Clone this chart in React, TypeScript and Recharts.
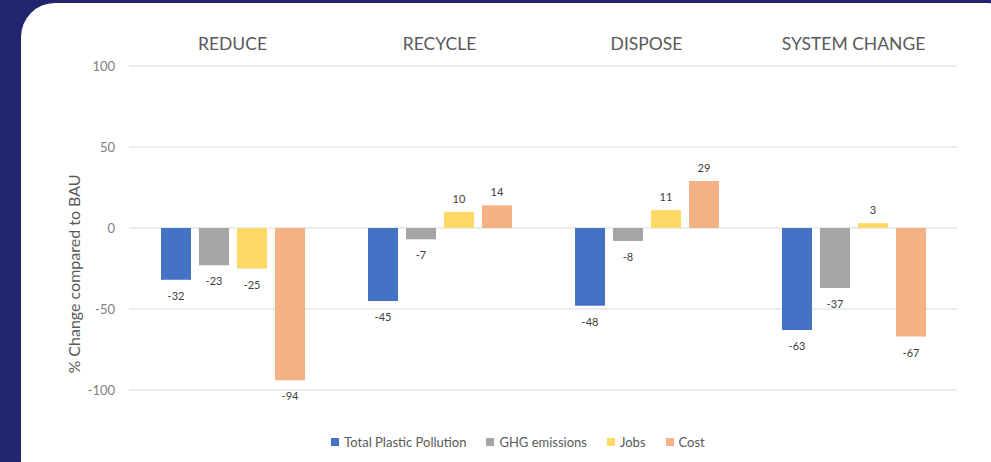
import {
  Bar,
  BarChart,
  CartesianGrid,
  LabelList,
  Legend,
  XAxis,
  YAxis,
} from "recharts";

const categories = ["REDUCE", "RECYCLE", "DISPOSE", "SYSTEM CHANGE"];
const plasticPollution = [-32, -45, -48, -63];
const ghgEmissions = [-23, -7, -8, -37];
const jobs = [-25, 10, 11, 3];
const cost = [-94, 14, 29, -67];
const yTicks = [-100, -50, 0, 50, 100];

const series = [
  { key: "plastic", name: "Total Plastic Pollution", color: "#4472C4", values: plasticPollution },
  { key: "ghg", name: "GHG emissions", color: "#A5A5A5", values: ghgEmissions },
  { key: "jobs", name: "Jobs", color: "#FFD966", values: jobs },
  { key: "cost", name: "Cost", color: "#F4B183", values: cost },
];

const data = categories.map((label, i) => {
  const row: Record<string, string | number> = { label };
  series.forEach((s) => {
    row[s.key] = s.values[i];
  });
  return row;
});

const FONT = "Lato, 'Open Sans', sans-serif";

function ValueLabel(props: any) {
  const { x, y, width, height, value } = props;
  const top = Math.min(y, y + height);
  const bottom = Math.max(y, y + height);
  const cx = x + width / 2;
  const ty = value < 0 ? bottom + 20 : top - 9;
  return (
    <text x={cx} y={ty} textAnchor="middle" fontSize={11} fill="#404040" fontFamily={FONT}>
      {value}
    </text>
  );
}

function YLabel(props: any) {
  const { viewBox } = props;
  const cx = viewBox.x + 23;
  const cy = viewBox.y + viewBox.height / 2 + 46;
  return (
    <text
      x={cx}
      y={cy}
      transform={`rotate(-90, ${cx}, ${cy})`}
      textAnchor="middle"
      dominantBaseline="central"
      fontSize={16}
      fill="#595959"
      fontFamily={FONT}
    >
      % Change compared to BAU
    </text>
  );
}

// custom legend so the order follows the series list
function renderLegend() {
  return (
    <div
      style={{
        display: "flex",
        justifyContent: "center",
        gap: 20,
        paddingLeft: 45,
        fontFamily: FONT,
        fontSize: 13,
        color: "#595959",
      }}
    >
      {series.map((s) => (
        <div key={s.key} style={{ display: "flex", alignItems: "center", gap: 5 }}>
          <span style={{ width: 8, height: 8, background: s.color, display: "inline-block" }} />
          {s.name}
        </div>
      ))}
    </div>
  );
}

export default function App() {
  return (
    <div
      style={{
        position: "fixed",
        top: 0,
        left: 0,
        width: 991,
        height: 462,
        background: "#212570",
        overflow: "hidden",
      }}
    >
      <div
        style={{
          position: "absolute",
          left: 21,
          top: 3,
          width: 1000,
          height: 490,
          borderRadius: 34,
          background: "#ffffff",
        }}
      />
      <div style={{ position: "absolute", left: 0, top: 0 }}>
        <BarChart
          width={991}
          height={462}
          data={data}
          margin={{ top: 30, right: 34, bottom: 56, left: 50 }}
          barSize={30}
          barGap={8}
        >
          <CartesianGrid vertical={false} stroke="#d9d9d9" />
          <XAxis
            dataKey="label"
            orientation="top"
            height={36}
            axisLine={false}
            tickLine={false}
            tickSize={0}
            tickMargin={16}
            tick={{ fill: "#595959", fontSize: 17.5, fontFamily: FONT }}
          />
          <YAxis
            width={79}
            domain={[-100, 100]}
            ticks={yTicks}
            axisLine={false}
            tickLine={false}
            tickSize={0}
            tickMargin={14}
            tick={{ fill: "#808080", fontSize: 13, fontFamily: FONT }}
            label={<YLabel />}
          />
          <Legend
            verticalAlign="bottom"
            content={renderLegend}
            wrapperStyle={{ left: 0, width: 991, bottom: 12 }}
          />
          {series.map((s) => (
            <Bar key={s.key} dataKey={s.key} name={s.name} fill={s.color} isAnimationActive={false}>
              <LabelList dataKey={s.key} content={<ValueLabel />} />
            </Bar>
          ))}
        </BarChart>
      </div>
    </div>
  );
}
